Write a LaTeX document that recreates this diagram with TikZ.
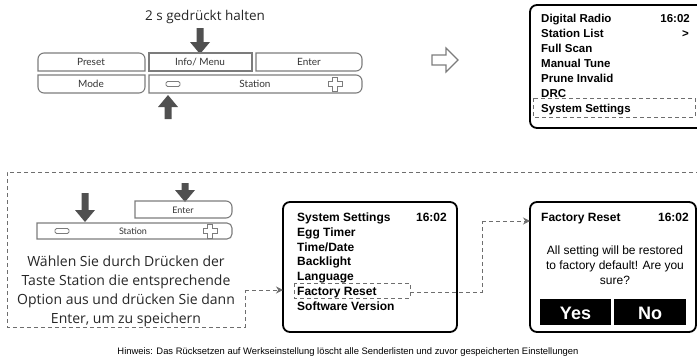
\documentclass[tikz,border=0pt]{standalone}
\usepackage{fontspec}
\setmainfont{Liberation Sans}
\newfontfamily\humfont{Open Sans}
\newfontfamily\keyfont{Lato}
\usetikzlibrary{arrows.meta}
\definecolor{keygray}{HTML}{7C7C7C}
\definecolor{arrowgray}{HTML}{505050}
\definecolor{dashgray}{HTML}{6E6E6E}
\definecolor{labelgray}{HTML}{333333}
\newcommand\grayarrowdown[3]{\fill[arrowgray] ({#1-3.5},#2) -- ({#1+3.5},#2) -- ({#1+3.5},{#3-12}) -- ({#1+10},{#3-12}) -- (#1,#3) -- ({#1-10},{#3-12}) -- ({#1-3.5},{#3-12}) -- cycle;}
\newcommand\grayarrowup[3]{\fill[arrowgray] ({#1-3.5},#3) -- ({#1+3.5},#3) -- ({#1+3.5},{#2+12}) -- ({#1+10},{#2+12}) -- (#1,#2) -- ({#1-10},{#2+12}) -- ({#1-3.5},{#2+12}) -- cycle;}
\newcommand\plusicon[1]{\draw[keyline,line width=0.9pt,shift={#1}] (-2.5,-7) -- (2.5,-7) -- (2.5,-2.5) -- (7,-2.5) -- (7,2.5) -- (2.5,2.5) -- (2.5,7) -- (-2.5,7) -- (-2.5,2.5) -- (-7,2.5) -- (-7,-2.5) -- (-2.5,-2.5) -- cycle;}
\newcommand\minusicon[1]{\draw[keyline,line width=0.9pt,rounded corners=1.5pt,shift={#1}] (-7,-2.5) rectangle (7,2.5);}
\begin{document}
\begin{tikzpicture}[x=1pt,y=-1pt,
  keyline/.style={draw=keygray,line width=1.1pt},
  keylabel/.style={font=\keyfont\fontsize{10}{12}\selectfont,text=labelgray,inner sep=0pt,anchor=base},
  keylabelsmall/.style={font=\keyfont\fontsize{9}{11}\selectfont,text=labelgray,inner sep=0pt,anchor=base},
  screen/.style={draw=black,line width=1.8pt,rounded corners=7pt},
  scrtext/.style={font=\bfseries\fontsize{11.5}{13}\selectfont,inner sep=0pt,anchor=base west},
  scrtexttwo/.style={font=\bfseries\fontsize{12}{14}\selectfont,inner sep=0pt,anchor=base west},
  msgtext/.style={font=\fontsize{12}{14}\selectfont,inner sep=0pt,anchor=base},
  humtext/.style={font=\humfont\fontsize{14}{19}\selectfont,text=black!85,inner sep=0pt,anchor=base},
  dashline/.style={draw=dashgray,line width=0.9pt,dash pattern=on 4pt off 3pt},
  dashtip/.style={-{Stealth[length=7pt,width=7pt,fill=dashgray]}},
  btn/.style={fill=black},
  btntext/.style={font=\bfseries\fontsize{18}{20}\selectfont,text=white,inner sep=0pt,anchor=base}]
\useasboundingbox (0,0) rectangle (697,362);
\clip (0,0) rectangle (697,362);

% ---------- top instruction ----------
\node[humtext,font=\humfont\fontsize{13.5}{16}\selectfont] (hold) at (205,20) {2 s gedrückt halten};
\grayarrowdown{200}{28}{54}

% ---------- top key panel ----------
\draw[keyline] (145,71) -- (38,71) [rounded corners=6pt] -- (38,53) -- (145,53) [sharp corners] -- cycle;
\draw[keyline] (149,53) rectangle (252,71);
\draw[keyline] (256,71) -- (256,53) [rounded corners=6pt] -- (362,53) -- (362,71) [sharp corners] -- cycle;
\draw[keyline] (145,75) -- (38,75) [rounded corners=6pt] -- (38,93) -- (145,93) [sharp corners] -- cycle;
\draw[keyline] (149,75) -- (149,93) [rounded corners=6pt] -- (362,93) -- (362,75) [sharp corners] -- cycle;
\node[keylabel] (preset) at (91,65.5) {Preset};
\node[keylabel] (info) at (200,65.5) {Info/ Menu};
\node[keylabel] (enter) at (309,65.5) {Enter};
\node[keylabel] (mode) at (91,87.5) {Mode};
\node[keylabel] (station) at (255,87.5) {Station};
\minusicon{(173,84)}
\plusicon{(335,84)}
\grayarrowup{168}{95}{119}

% ---------- hollow arrow ----------
\draw[keygray,line width=1.1pt,line join=miter] (432,55) -- (446,55) -- (446,48) -- (458,60) -- (446,72) -- (446,65) -- (432,65) -- cycle;

% ---------- screen 1 ----------
\draw[screen] (530,5) rectangle (712,128);
\node[scrtext] (s1a) at (541,22) {Digital Radio};
\node[scrtext,anchor=base east] (s1t) at (690,22) {16:02};
\node[scrtext] (s1b) at (541,37.1) {Station List};
\node[scrtext,anchor=base east] (s1g) at (689,37.1) {>};
\node[scrtext] (s1c) at (541,52.2) {Full Scan};
\node[scrtext] (s1d) at (541,67.3) {Manual Tune};
\node[scrtext] (s1e) at (541,82.4) {Prune Invalid};
\node[scrtext] (s1f) at (541,97.5) {DRC};
\node[scrtext] (s1h) at (541,112.6) {System Settings};
\draw[dashline] (533,98) rectangle (695,117);

% ---------- big dashed callout ----------
\coordinate (cbTop) at (700,172);
\coordinate (cbTL) at (7,172);
\coordinate (cbBL) at (7,327);
\coordinate (cbBR) at (245,327);
\coordinate (cbOut) at (245,290);

% lower keys
\grayarrowdown{185}{183}{202}
\grayarrowdown{85}{193}{222}
\draw[keyline] (135,218) -- (135,201) [rounded corners=6pt] -- (232,201) -- (232,218) [sharp corners] -- cycle;
\draw[keyline,rounded corners=5pt] (37,223) [sharp corners] -- (37,239) [rounded corners=5pt] -- (232,239) -- (232,223) [sharp corners] -- cycle;
\node[keylabelsmall] (enter2) at (183,213.5) {Enter};
\node[keylabelsmall] (station2) at (133,234.5) {Station};
\minusicon{(62,231)}
\plusicon{(210,231)}

\node[humtext] (w1) at (126,266) {Wählen Sie durch Drücken der};
\node[humtext] (w2) at (126,285) {Taste Station die entsprechende};
\node[humtext] (w3) at (126,304) {Option aus und drücken Sie dann};
\node[humtext] (w4) at (126,323) {Enter, um zu speichern};

% ---------- screen 2 ----------
\draw[screen] (283,202) rectangle (457,332);
\coordinate (s2in) at (283,290);
\node[scrtexttwo] (s2a) at (297,221.5) {System Settings};
\node[scrtexttwo,anchor=base east] (s2t) at (447,221.5) {16:02};
\node[scrtexttwo] (s2b) at (297,236.3) {Egg Timer};
\node[scrtexttwo] (s2c) at (297,251.1) {Time/Date};
\node[scrtexttwo] (s2d) at (297,265.9) {Backlight};
\node[scrtexttwo] (s2e) at (297,280.7) {Language};
\node[scrtexttwo] (s2f) at (297,295.5) {Factory Reset};
\node[scrtexttwo] (s2g) at (297,310.3) {Software Version};
\draw[dashline] (294,283) rectangle (410,298);
\coordinate (frOut) at (410,292);
\coordinate (frMid1) at (482,292);
\coordinate (frMid2) at (482,221);

% ---------- screen 3 ----------
\draw[screen] (530,202) rectangle (696,332);
\coordinate (s3in) at (530,221);
\node[scrtexttwo] (s3a) at (541,221.5) {Factory Reset};
\node[scrtexttwo,anchor=base east] (s3t) at (689,221.5) {16:02};
\node[msgtext] (m1) at (615,254) {All setting will be restored};
\node[msgtext] (m2) at (615,269) {to factory default! Are you};
\node[msgtext] (m3) at (615,284) {sure?};
\fill[btn] (540,299) rectangle (611,325);
\fill[btn] (614,299) rectangle (686,325);
\node[btntext] (yes) at (575.5,319) {Yes};
\node[btntext] (no) at (650,319) {No};

% ---------- dashed connectors ----------
\draw[dashline] (cbTop) -- (cbTL) -- (cbBL) -- (cbBR) -- (cbOut);
\draw[dashline,dashtip] (cbOut) -- (s2in);
\draw[dashline] (frOut) -- (frMid1) -- (frMid2);
\draw[dashline,dashtip] (frMid2) -- (s3in);

% ---------- note ----------
\node[font=\fontsize{9.4}{11}\selectfont,inner sep=0pt,anchor=base] (note) at (348,354) {Hinweis: Das Rücksetzen auf Werkseinstellung löscht alle Senderlisten und zuvor gespeicherten Einstellungen};
\end{tikzpicture}
\end{document}
